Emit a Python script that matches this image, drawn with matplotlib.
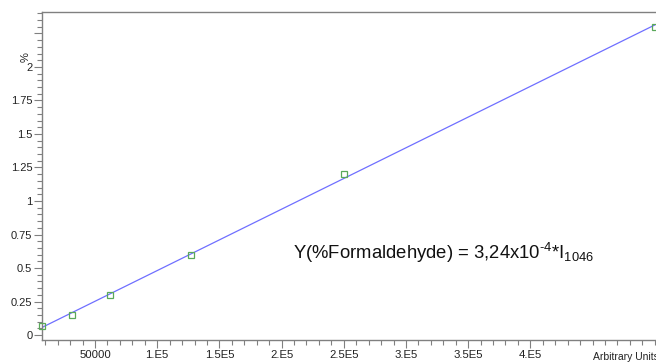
import matplotlib
matplotlib.use("Agg")
import matplotlib.pyplot as plt
import matplotlib.transforms as mtransforms
import numpy as np

# calibration points (intensity in arbitrary units vs % formaldehyde)
intensity = [7400, 31250, 62000, 127000, 250000, 500000]
percent = [0.065, 0.15, 0.30, 0.60, 1.20, 2.30]

x_ticks = [50000, 100000, 150000, 200000, 250000, 300000, 350000, 400000]
x_tick_labels = ["50000", "1.E5", "1.5E5", "2.E5", "2.5E5", "3.E5", "3.5E5", "4.E5"]
y_ticks = [0, 0.25, 0.5, 0.75, 1, 1.25, 1.5, 1.75, 2, 2.25]
y_tick_labels = ["0", "0.25", "0.5", "0.75", "1", "1.25", "1.5", "1.75", "2", ""]

plt.rcParams["font.family"] = ["Liberation Sans", "DejaVu Sans"]
plt.rcParams["mathtext.fontset"] = "custom"
plt.rcParams["mathtext.rm"] = "Liberation Sans"
plt.rcParams["mathtext.it"] = "Liberation Sans"

fig = plt.figure(figsize=(6.56, 3.62), dpi=100)
ax = fig.add_axes([42 / 656, 1 - 340 / 362, 1 - 42 / 656, (340 - 12) / 362])

spine_col = "#808080"
for side in ("left", "top", "bottom"):
    ax.spines[side].set_color(spine_col)
    ax.spines[side].set_linewidth(1.0)
ax.spines["right"].set_visible(False)

# least-squares line through the calibration points
slope, icpt = np.polyfit(intensity, percent, 1)
xl = np.array([intensity[0], intensity[-1]])
ax.plot(xl, slope * xl + icpt, color="#6f6fff", lw=0.9, zorder=2)
ax.plot(intensity, percent, ls="none", marker="s", ms=4.2, mfc="none",
        mec="#5aa85a", mew=0.9, zorder=3, clip_on=False)

ax.set_xlim(intensity[0], 501000)
ax.set_ylim(-0.037, 2.41)

ax.set_xticks(x_ticks)
ax.set_xticklabels(x_tick_labels)
ax.set_xticks(np.arange(10000, 500001, 10000), minor=True)
ax.set_yticks(y_ticks)
ax.set_yticklabels(y_tick_labels)
ax.set_yticks(np.arange(0, 2.41, 0.05), minor=True)

ax.tick_params(axis="both", which="major", length=5.5, width=0.8,
               color=spine_col, labelsize=8, labelcolor="#222222", pad=1.5)
ax.tick_params(axis="both", which="minor", length=3.5, width=0.8,
               color=spine_col)
ax.tick_params(axis="x", which="major", labelsize=8.2, pad=2)

# x-axis unit label sits where the 4.5E5 label would be
trans = mtransforms.blended_transform_factory(ax.transData, ax.transAxes)
ax.text(450000, -0.036, "Arbitrary Units", transform=trans, ha="left",
        va="top", fontsize=7.5, color="#222222")

# y-axis unit label above the "2" tick
ax.text(26 / 656, 1 - 57 / 362, "%", transform=fig.transFigure, rotation=90,
        ha="center", va="center", fontsize=8, color="#222222")

ax.text(293 / 656, 1 - 253 / 362,
        "Y(%Formaldehyde) = 3,24x10$^{\u20104}$*I$_{\\mathrm{1046}}$",
        transform=fig.transFigure, ha="left", va="center", fontsize=13.3,
        color="#111111")

fig.savefig("out.png", dpi=100)
